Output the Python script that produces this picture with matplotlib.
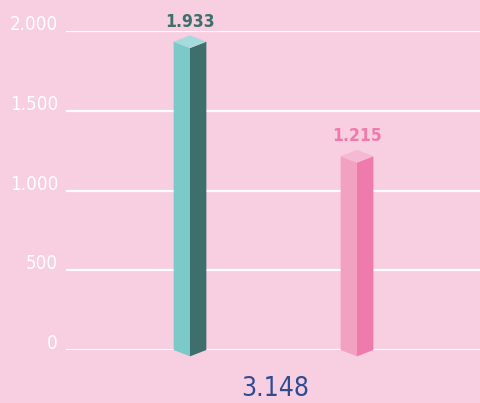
import matplotlib
matplotlib.use("Agg")
import matplotlib.pyplot as plt
from matplotlib.patches import Polygon
from matplotlib import font_manager

# data
categories = ["A", "B"]
values = [1933, 1215]
ticks = [0, 500, 1000, 1500, 2000]
tick_labels = ["0", "500", "1.000", "1.500", "2.000"]

# styles
bg = "#F8CEE1"
face_light = ["#7BC9C9", "#F2A1C1"]
face_dark = ["#3E6F6C", "#EE7BAC"]
face_top = ["#A6DADC", "#F5B9D3"]
label_col = ["#3E6F6C", "#EE7BAC"]
total_col = "#2E4C92"

names = {f.name for f in font_manager.fontManager.ttflist}
if "Liberation Sans Narrow" in names:
    fam = "Liberation Sans Narrow"
    stretch = "normal"
else:
    fam = "DejaVu Sans"
    stretch = "condensed"
plt.rcParams["font.family"] = fam
plt.rcParams["font.stretch"] = stretch

fig = plt.figure(figsize=(4.8, 4.03), dpi=100)
fig.patch.set_facecolor(bg)
ax = fig.add_axes([66 / 480, 53 / 403, 414 / 480, 319 / 403])
ax.set_facecolor(bg)
ax.set_ylim(0, 2000)
ax.set_xlim(-0.7425, 1.7365)
for s in ax.spines.values():
    s.set_visible(False)
ax.set_xticks([])
ax.set_yticks([])

for t, lab in zip(ticks, tick_labels):
    ax.axhline(t, color="white", lw=1.6, zorder=1)
    ax.text(-8 / 414, t + 5, lab, transform=ax.get_yaxis_transform(),
            ha="right", va="baseline", color="white", fontsize=13.5)

w = 0.098   # half bar width (x units)
d = 40      # isometric depth (y units)
for i, v in enumerate(values):
    x = i
    left = Polygon([(x - w, 0), (x, -d), (x, v - d), (x - w, v)],
                   closed=True, fc=face_light[i], ec="none", zorder=3, clip_on=False)
    right = Polygon([(x, -d), (x + w, 0), (x + w, v), (x, v - d)],
                    closed=True, fc=face_dark[i], ec="none", zorder=3, clip_on=False)
    top = Polygon([(x - w, v), (x, v + d), (x + w, v), (x, v - d)],
                  closed=True, fc=face_top[i], ec="none", zorder=3, clip_on=False)
    for p in (left, right, top):
        ax.add_patch(p)
    ax.text(x, v + d + 55, f"{v:,}".replace(",", "."), ha="center", va="baseline",
            color=label_col[i], fontsize=12.5, fontweight="bold", clip_on=False)

total = sum(values)
ax.text(0.51, -290, f"{total:,}".replace(",", "."), ha="center", va="baseline",
        color=total_col, fontsize=19, clip_on=False)

fig.savefig("out.png", dpi=100, facecolor=bg)
